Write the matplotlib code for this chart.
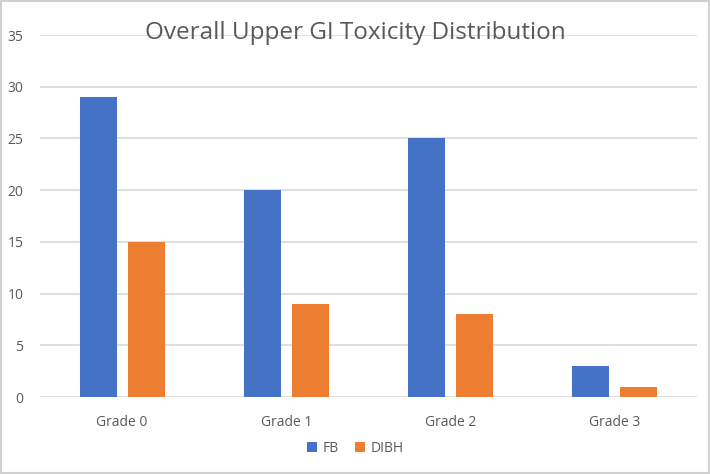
import matplotlib.pyplot as plt
import numpy as np

grades = ["Grade 0", "Grade 1", "Grade 2", "Grade 3"]
fb = [29, 20, 25, 3]
dibh = [15, 9, 8, 1]

plt.rcParams['font.family'] = ['Open Sans', 'DejaVu Sans']

fig = plt.figure(figsize=(7.1, 4.74), dpi=100)
ax = fig.add_axes([0.0563, 0.1624, 0.9254, 0.7636])

x = np.arange(len(grades))
w = 0.225
ax.bar(x - 0.146, fb, w, color="#4472C4", label="FB", zorder=3)
ax.bar(x + 0.146, dibh, w, color="#ED7D31", label="DIBH", zorder=3)

ax.set_xlim(-0.5, 3.5)
ax.set_ylim(0, 35)
ax.set_yticks(range(0, 36, 5))
ax.set_xticks(x)
ax.set_xticklabels(grades)
ax.grid(axis="y", color="#D9D9D9", linewidth=1.2, zorder=0)
for s in ax.spines.values():
    s.set_visible(False)
ax.tick_params(length=0, labelsize=10, colors="#595959")
ax.tick_params(axis="x", pad=13)
ax.tick_params(axis="y", pad=12)

fig.text(0.5, 0.93, "Overall Upper GI Toxicity Distribution", ha="center", va="center",
         fontsize=17.5, color="#595959")

ax.legend(loc="center", bbox_to_anchor=(0.48, -0.142), ncol=2, frameon=False,
          fontsize=10, labelcolor="#595959", handlelength=0.7, handleheight=0.7,
          handletextpad=0.4, columnspacing=1.2)

fig.patches.append(plt.Rectangle((0.002, 0.003), 0.996, 0.994, transform=fig.transFigure,
                                 fill=False, edgecolor="#D0D0D0", linewidth=1.5))

fig.savefig("out.png", dpi=100)
